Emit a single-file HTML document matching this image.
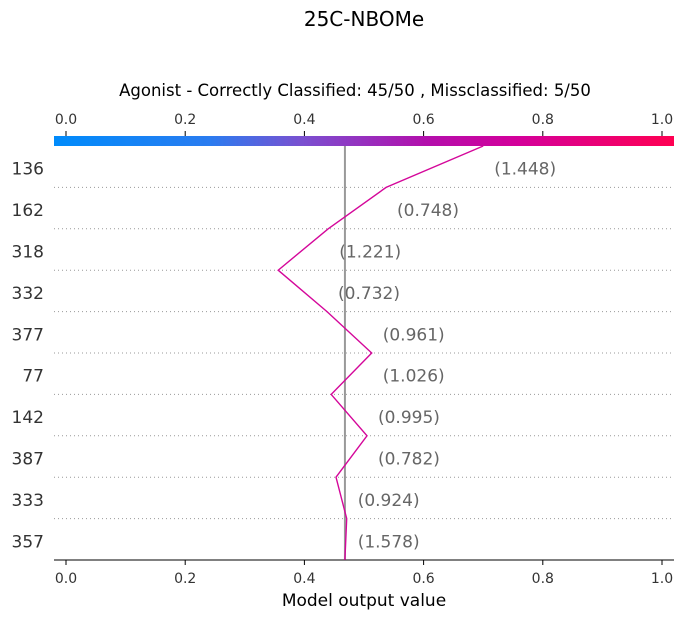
<!DOCTYPE html>
<html><head><meta charset="utf-8"><style>
html,body{margin:0;padding:0;background:#fff;}
svg{display:block;font-family:"DejaVu Sans","Liberation Sans",sans-serif;}
</style></head><body>
<svg id="chart" width="684" height="618">
<defs><linearGradient id="cg" x1="0" x2="1" y1="0" y2="0">
<stop offset="0" stop-color="#008bfb"/><stop offset="0.25" stop-color="#2a7cf0"/><stop offset="0.4" stop-color="#7a50d0"/><stop offset="0.6" stop-color="#b30fac"/><stop offset="0.75" stop-color="#d4009a"/><stop offset="1" stop-color="#ff0052"/></linearGradient></defs>
<text x="364" y="26" text-anchor="middle" font-size="20" fill="#000">25C-NBOMe</text>
<text x="355" y="96" text-anchor="middle" font-size="16.5" fill="#000">Agonist - Correctly Classified: 45/50 , Missclassified: 5/50</text>
<rect x="54" y="136" width="620" height="10" fill="url(#cg)"/>
<g id="g"></g>
</svg>
<script>
const features=["136","162","318","332","377","77","142","387","333","357"];
const cumValues=[0.700,0.537,0.440,0.356,0.438,0.513,0.445,0.505,0.453,0.471,0.468];
const featureValues=["(1.448)","(0.748)","(1.221)","(0.732)","(0.961)","(1.026)","(0.995)","(0.782)","(0.924)","(1.578)"];
const baseValue=0.468;
const ticks=[0,0.2,0.4,0.6,0.8,1.0];
const tickLabels=["0.0","0.2","0.4","0.6","0.8","1.0"];
{
const NS="http://www.w3.org/2000/svg";
const g=document.getElementById('g');
const X=v=>66+v*596;
const plotTop=146,rowH=41.4;
const Y=i=>plotTop+i*rowH;
function mk(t,a){const e=document.createElementNS(NS,t);for(const k in a)e.setAttribute(k,a[k]);g.appendChild(e);return e;}
for(let i=1;i<features.length;i++){
 const l=mk('line',{x1:54,x2:674,y1:Y(i),y2:Y(i),stroke:'#999','stroke-dasharray':'1,3','stroke-width':1});
 
 
}
features.forEach((f,i)=>{
 const t=mk('text',{x:44,y:Y(i)+rowH/2+8,'text-anchor':'end','font-size':17,fill:'#333'});
 t.textContent=f;
 
 
});
const bl=mk('line',{x1:X(baseValue),x2:X(baseValue),y1:plotTop,y2:Y(features.length),stroke:'#999','stroke-width':2});


const ax=mk('line',{x1:54,x2:674,y1:Y(features.length),y2:Y(features.length),stroke:'#000','stroke-width':1});


ticks.forEach((v,i)=>{
 const tl=mk('line',{x1:X(v),x2:X(v),y1:560,y2:565,stroke:'#000'});
 
 
 const t=mk('text',{x:X(v),y:583,'text-anchor':'middle','font-size':14,fill:'#333'});
 t.textContent=tickLabels[i];
 
 
 const tt=mk('line',{x1:X(v),x2:X(v),y1:131,y2:136,stroke:'#000'});
 
 
 const t2=mk('text',{x:X(v),y:124,'text-anchor':'middle','font-size':14,fill:'#333'});
 t2.textContent=tickLabels[i];
 
 
});
const xl=mk('text',{x:364,y:606,'text-anchor':'middle','font-size':17,fill:'#000'});
xl.textContent='Model output value';


const pts=cumValues.map((v,i)=>X(v).toFixed(1)+','+Y(i).toFixed(1)).join(' ');
const pl=mk('polyline',{points:pts,fill:'none',stroke:'#d4079a','stroke-width':1.4});


featureValues.forEach((s,i)=>{
 const xm=Math.max(X(cumValues[i]),X(cumValues[i+1]));
 const t=mk('text',{x:xm+11,y:Y(i)+rowH/2+8,'font-size':17,fill:'#666'});
 t.textContent=s;
 
 
});
}
</script>
</body></html>
